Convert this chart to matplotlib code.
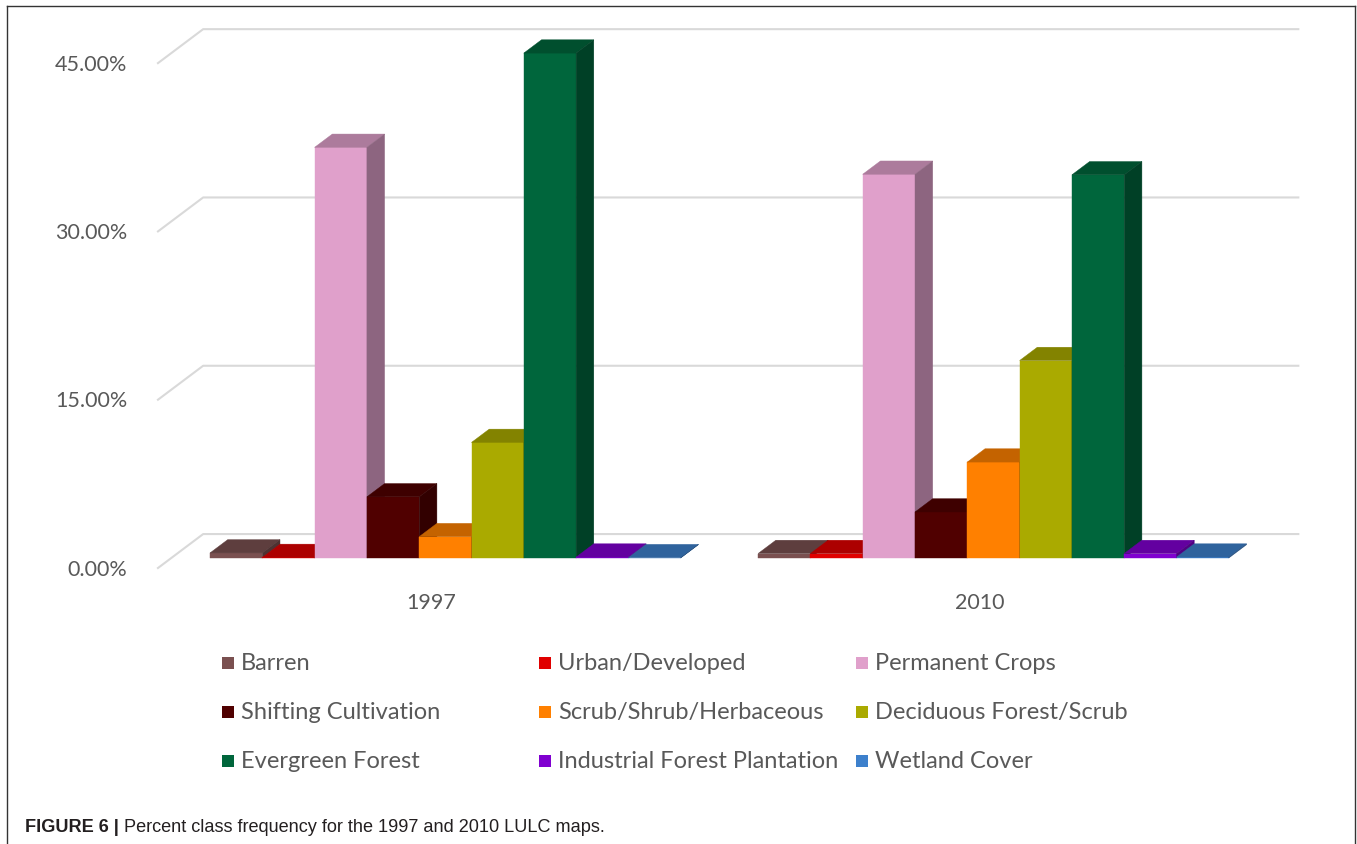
import matplotlib
matplotlib.use("Agg")
import matplotlib.pyplot as plt
from matplotlib.patches import Polygon, Rectangle
from matplotlib.lines import Line2D

plt.rcParams['font.family'] = ['Lato', 'DejaVu Sans']

# data (percent of mapped area)
years = ['1997', '2010']
classes = ['Barren', 'Urban/Developed', 'Permanent Crops',
           'Shifting Cultivation', 'Scrub/Shrub/Herbaceous', 'Deciduous Forest/Scrub',
           'Evergreen Forest', 'Industrial Forest Plantation', 'Wetland Cover']
pct_1997 = [0.45, 0.05, 36.6, 5.45, 1.9, 10.3, 45.0, 0.08, 0.03]
pct_2010 = [0.4, 0.4, 34.2, 4.1, 8.55, 17.6, 34.15, 0.4, 0.08]
colors = ['#7A5050', '#E00000', '#E0A0CB', '#500000', '#FF8000',
          '#AAAA00', '#00663C', '#8000D0', '#3D80CC']
yticks = [0, 15, 30, 45]

# layout (pixels of the 1357x845 image)
W, H = 1357, 845
X0_PX, Y0_PX = 210, 559      # front-left-bottom corner of first bar
BAR_PX, PCT_PX = 52.3, 11.22  # one bar width / one percent
DEPTH_PX = (17.7, 13.3)       # depth offset of a bar (right, up)
GROUP_W = 10.48               # category width in bar units
TXT = '#595959'

fig = plt.figure(figsize=(W / 100, H / 100), dpi=100)
ax = fig.add_axes([0, 0, 1, 1])
ax.set_xlim(-X0_PX / BAR_PX, (W - X0_PX) / BAR_PX)
ax.set_ylim(-(H - Y0_PX) / PCT_PX, Y0_PX / PCT_PX)
ax.axis('off')

ddx = DEPTH_PX[0] / BAR_PX
ddy = DEPTH_PX[1] / PCT_PX
gap = GROUP_W - len(classes)
x_left = -gap / 2
x_right = len(years) * GROUP_W - gap / 2


def shade(c, f):
    r, g, b = matplotlib.colors.to_rgb(c)
    return (r * f, g * f, b * f)


# back wall gridlines with the diagonal on the left side of the floor
for v in yticks:
    xs = [x_left - 0.8 * ddx, x_left + 1.8 * ddx, x_right + 1.8 * ddx]
    ys = [v - 0.8 * ddy, v + 1.8 * ddy, v + 1.8 * ddy]
    ax.plot(xs, ys, color='#D9D9D9', lw=1.5, zorder=1, solid_capstyle='butt')
    ax.text(x_left - 0.8 * ddx - 30 / BAR_PX, v - 0.8 * ddy, '%.2f%%' % v,
            ha='right', va='center', fontsize=15.5, color=TXT)

# 3d-looking bars, drawn left to right so the next front face hides the side
z = 2
for g, vals in enumerate([pct_1997, pct_2010]):
    for i, (h, c) in enumerate(zip(vals, colors)):
        x = g * GROUP_W + i
        ax.bar(x, h, width=1, align='edge', color=c, edgecolor=c, lw=0.3, zorder=z)
        top = [(x, h), (x + 1, h), (x + 1 + ddx, h + ddy), (x + ddx, h + ddy)]
        side = [(x + 1, 0), (x + 1 + ddx, ddy), (x + 1 + ddx, h + ddy), (x + 1, h)]
        ax.add_patch(Polygon(top, closed=True, fc=shade(c, 0.77), ec=shade(c, 0.77),
                             lw=0.3, zorder=z + 1))
        ax.add_patch(Polygon(side, closed=True, fc=shade(c, 0.63), ec=shade(c, 0.63),
                             lw=0.3, zorder=z + 2))
        z += 3
    ax.text(g * GROUP_W + len(classes) / 2 - 0.8 * ddx, -0.8 * ddy - 33 / PCT_PX,
            years[g], ha='center', va='center', fontsize=15.5, color=TXT)

# legend, 3 columns
for i, (name, c) in enumerate(zip(classes, colors)):
    col, row = i % 3, i // 3
    px = 222 + 317 * col
    py = 664 + 49 * row
    fig.add_artist(Rectangle((px / W, 1 - (py + 6) / H), 12 / W, 12 / H,
                             transform=fig.transFigure, fc=c, ec='none'))
    fig.text((px + 19) / W, 1 - py / H, name, ha='left', va='center',
             fontsize=17, color=TXT)

# frame around the figure
fk = dict(transform=fig.transFigure, color='#333333', lw=1.0)
fig.add_artist(Line2D([7 / W, 7 / W], [0, 1 - 7 / H], **fk))
fig.add_artist(Line2D([7 / W, 1355 / W], [1 - 7 / H, 1 - 7 / H], **fk))
fig.add_artist(Line2D([1355 / W, 1355 / W], [0, 1 - 7 / H], **fk))

# caption
cap_font = ['Liberation Sans', 'DejaVu Sans']
t1 = fig.text(25 / W, 1 - 828 / H, 'FIGURE 6 |', ha='left', va='center',
              fontsize=13.1, fontweight='bold', family=cap_font, color='#231F20')
ax.annotate(' Percent class frequency for the 1997 and 2010 LULC maps.',
            xy=(1, 0), xycoords=t1, ha='left', va='bottom',
            fontsize=13.1, family=cap_font, color='#231F20')

fig.savefig('out.png', dpi=100)
